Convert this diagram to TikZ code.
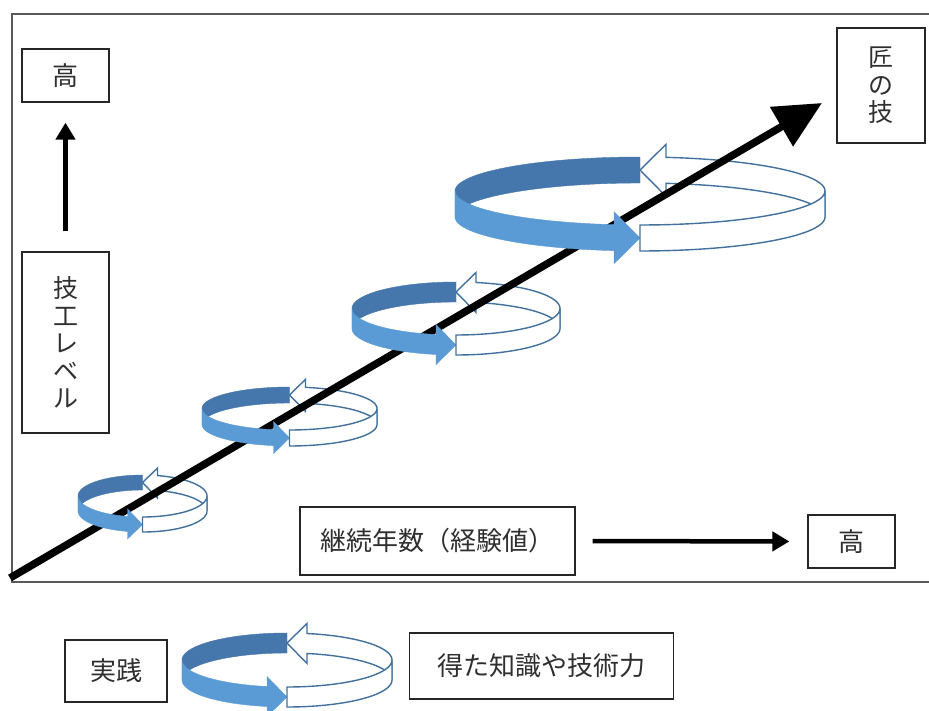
\documentclass[tikz,border=0pt]{standalone}
\usepackage{fontspec}
\newfontfamily\jp{Noto Sans CJK JP}
\usetikzlibrary{arrows.meta}
\definecolor{cdark}{HTML}{4677AC}
\definecolor{clight}{HTML}{5B9BD5}
\definecolor{cline}{HTML}{41719C}
\definecolor{ctext}{HTML}{2F2F2F}
\definecolor{cframe}{HTML}{5A5A5A}

% back half of a cycle: #1 cx, #2 cy, #3 rx, #4 ry, #5 band height
\newcommand\cycback[5]{%
  \pgfmathsetmacro\cCx{#1}\pgfmathsetmacro\cCy{#2}%
  \pgfmathsetmacro\cRx{#3}\pgfmathsetmacro\cRy{#4}\pgfmathsetmacro\cH{#5}%
  \pgfmathsetmacro\cTw{360-acos(\cH/\cRx)}%
  \pgfmathsetmacro\cMw{\cCy+\cRy*sin(\cTw)+\cH/2}%
  \filldraw[darkband]
    plot[domain=270:180,samples=40] ({\cCx+\cRx*cos(\x)},{\cCy+\cRy*sin(\x)})
    -- plot[domain=180:270,samples=40] ({\cCx+\cRx*cos(\x)},{\cCy+\cH+\cRy*sin(\x)})
    -- cycle;
  \filldraw[wring]
    ({\cCx+\cH},{\cMw-\cH}) -- (\cCx,{\cCy-\cRy+\cH/2}) -- ({\cCx+\cH},{\cMw+\cH})
    -- plot[domain=\cTw:360,samples=40] ({\cCx+\cRx*cos(\x)},{\cCy+\cH+\cRy*sin(\x)})
    -- plot[domain=360:\cTw,samples=40] ({\cCx+\cRx*cos(\x)},{\cCy+\cRy*sin(\x)})
    -- cycle;
}
% front half of a cycle
\newcommand\cycfront[5]{%
  \pgfmathsetmacro\cCx{#1}\pgfmathsetmacro\cCy{#2}%
  \pgfmathsetmacro\cRx{#3}\pgfmathsetmacro\cRy{#4}\pgfmathsetmacro\cH{#5}%
  \pgfmathsetmacro\cTb{acos(-\cH/\cRx)}%
  \pgfmathsetmacro\cMb{\cCy+\cRy*sin(\cTb)+\cH/2}%
  \filldraw[lightband]
    plot[domain=180:\cTb,samples=40] ({\cCx+\cRx*cos(\x)},{\cCy+\cRy*sin(\x)})
    -- ({\cCx-\cH},{\cMb-\cH}) -- (\cCx,{\cCy+\cRy+\cH/2}) -- ({\cCx-\cH},{\cMb+\cH})
    -- plot[domain=\cTb:180,samples=40] ({\cCx+\cRx*cos(\x)},{\cCy+\cH+\cRy*sin(\x)})
    -- cycle;
  \filldraw[wring]
    plot[domain=0:90,samples=40] ({\cCx+\cRx*cos(\x)},{\cCy+\cRy*sin(\x)})
    -- plot[domain=90:0,samples=40] ({\cCx+\cRx*cos(\x)},{\cCy+\cH+\cRy*sin(\x)})
    -- cycle;
}

\begin{document}
\begin{tikzpicture}[x=1pt,y=-1pt,
  box/.style={draw=black!85, line width=1.2pt, inner sep=0pt, text=ctext,
    font=\jp\fontsize{26}{28}\selectfont},
  vbox/.style={box, align=center, font=\jp\fontsize{25}{27.5}\selectfont},
  darkband/.style={fill=cdark, draw=cdark, line width=0.4pt},
  lightband/.style={fill=clight, draw=clight, line width=0.4pt},
  wring/.style={fill=white, draw=cline, line width=1.4pt, line join=miter},
  mainarrow/.style={line width=7.5pt, -{Triangle[length=47pt,width=44pt]}},
  smallarrow/.style={line width=4.5pt, -{Triangle[length=17pt,width=19pt]}}]
\useasboundingbox (0,0) rectangle (929,711);
\clip (0,0) rectangle (929,711);
\fill[white] (0,0) rectangle (929,711);

% frame (right side beyond the picture)
\draw[cframe, line width=1.8pt] (940,14) -- (12,14) -- (12,582) -- (940,582);

% boxes
\node[box, minimum width=87pt, minimum height=53pt] (hiL) at (65.5,75.5) {高};
\node[vbox, minimum width=87pt, minimum height=181pt] (lvl) at (65.5,342.5) {技\\工\\レ\\ベ\\ル};
\node[vbox, minimum width=88pt, minimum height=115pt] (takumi) at (881,85.5) {匠\\の\\技};
\node[box, minimum width=275pt, minimum height=68pt] (years) at (437.5,541) {継続年数（経験値）};
\node[box, minimum width=87pt, minimum height=53pt] (hiR) at (851.5,541.5) {高};
\node[box, minimum width=102pt, minimum height=62pt] (jissen) at (116,671) {実践};
\node[box, minimum width=264pt, minimum height=66pt] (chishiki) at (541.5,666) {得た知識や技術力};

% axis arrows
\draw[smallarrow, shorten <=20pt, shorten >=20pt] (lvl.north) -- (hiL.south);
\draw[smallarrow, shorten <=17pt, shorten >=18pt] (years.east) -- (hiR.west);

% cycles: back halves
\cycback{142.5}{496}{64.5}{21}{15}
\cycback{289.5}{408.5}{87.5}{21.5}{16}
\cycback{456}{308.5}{104}{26.5}{20}
\cycback{640}{191}{185}{34}{26}

% main diagonal arrow
\coordinate (ms) at (10,578);
\coordinate (me) at (822,103);
\draw[mainarrow] (ms) -- (me);

% cycles: front halves
\cycfront{142.5}{496}{64.5}{21}{15}
\cycfront{289.5}{408.5}{87.5}{21.5}{16}
\cycfront{456}{308.5}{104}{26.5}{20}
\cycfront{640}{191}{185}{34}{26}

% legend cycle
\cycback{287}{660}{105}{27}{20}
\cycfront{287}{660}{105}{27}{20}
\end{tikzpicture}
\end{document}
